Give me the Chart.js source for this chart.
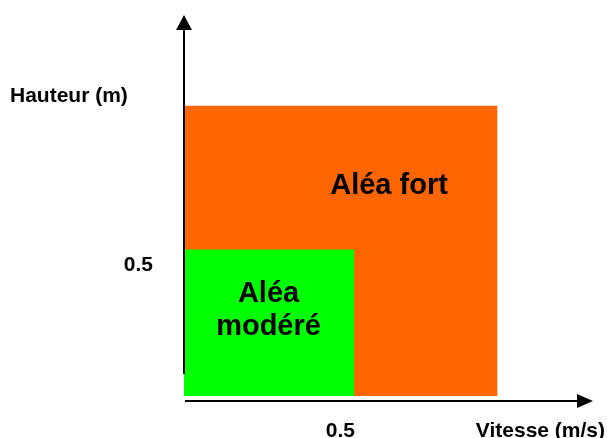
<!DOCTYPE html>
<html><head><meta charset="utf-8">
<script src="https://cdn.jsdelivr.net/npm/chart.js@4"></script>
<style>html,body{margin:0;padding:0;background:#fff;overflow:hidden}canvas{display:block}</style>
</head><body>
<canvas id="c" width="607" height="438"></canvas>
<script>
// ---- data ----
const zoneNames = ['Aléa modéré', 'Aléa fort'];
const zoneVitesseMax = [0.5, 0.92];
const zoneHauteurMax = [0.5, 0.99];
const zoneColors = ['#00FF00', '#FF6600'];
const zoneLabelLines = [['Aléa', 'modéré'], ['Aléa fort']];
const zoneLabelX = [0.248, 0.6015];
const zoneLabelY = [0.264, 0.689];
const xTicks = [0.5];
const yTicks = [0.5];
const xTickLabels = ['0.5'];
const yTickLabels = ['0.5'];
const xTitle = 'Vitesse (m/s)';
const yTitle = 'Hauteur (m)';

const FONT = '"Liberation Sans", Arial, sans-serif';

const datasets = zoneNames.map((name, i) => ({
  label: name,
  data: [{x: 0, y: zoneHauteurMax[i]}, {x: zoneVitesseMax[i], y: zoneHauteurMax[i]}],
  fill: 'origin',
  backgroundColor: zoneColors[i],
  borderColor: 'rgba(0,0,0,0)',
  borderWidth: 0,
  pointRadius: 0,
  order: i
}));

const axesPlugin = {
  id: 'axesArrows',
  afterDraw(chart) {
    const ctx = chart.ctx, a = chart.chartArea;
    const xs = chart.scales.x, ys = chart.scales.y;
    const x0 = xs.getPixelForValue(0);
    ctx.save();
    ctx.strokeStyle = '#000'; ctx.fillStyle = '#000'; ctx.lineWidth = 2;
    // y axis
    ctx.beginPath();
    ctx.moveTo(x0, a.top + 10);
    ctx.lineTo(x0, ys.getPixelForValue(0.075));
    ctx.stroke();
    ctx.beginPath();
    ctx.moveTo(x0, a.top); ctx.lineTo(x0 - 8, a.top + 15); ctx.lineTo(x0 + 8, a.top + 15); ctx.closePath(); ctx.fill();
    // x axis
    ctx.beginPath();
    ctx.moveTo(x0 + 1, a.bottom);
    ctx.lineTo(a.right - 10, a.bottom);
    ctx.stroke();
    ctx.beginPath();
    ctx.moveTo(a.right, a.bottom); ctx.lineTo(a.right - 16, a.bottom - 7); ctx.lineTo(a.right - 16, a.bottom + 7); ctx.closePath(); ctx.fill();
    // ticks labels (positioned from the scales)
    ctx.font = 'bold 21px ' + FONT;
    ctx.textBaseline = 'alphabetic';
    ctx.textAlign = 'right';
    yTicks.forEach((v, i) => ctx.fillText(yTickLabels[i], x0 - 31, ys.getPixelForValue(v) + 22));
    ctx.textAlign = 'center';
    xTicks.forEach((v, i) => ctx.fillText(xTickLabels[i], xs.getPixelForValue(v) - 14, a.bottom + 36));
    // axis titles
    ctx.textAlign = 'left';
    ctx.fillText(yTitle, 10, 102);
    ctx.textAlign = 'right';
    ctx.fillText(xTitle, 605, a.bottom + 36);
    // zone labels
    ctx.textAlign = 'center';
    ctx.font = 'bold 29px ' + FONT;
    zoneLabelLines.forEach((lines, i) => {
      const cx = xs.getPixelForValue(zoneLabelX[i]);
      const cy = ys.getPixelForValue(zoneLabelY[i]);
      const lh = 33;
      lines.forEach((t, k) => {
        ctx.fillText(t, cx, cy + (k - (lines.length - 1) / 2) * lh);
      });
    });
    ctx.restore();
  }
};

new Chart(document.getElementById('c'), {
  type: 'line',
  data: { datasets },
  options: {
    responsive: false,
    devicePixelRatio: 1,
    animation: false,
    layout: { padding: { left: 184, top: 15, right: 14, bottom: 37 } },
    plugins: { legend: { display: false }, tooltip: { enabled: false } },
    scales: {
      x: { type: 'linear', min: 0, max: 1.2, display: false },
      y: { type: 'linear', min: -0.017, max: 1.3, display: false }
    }
  },
  plugins: [axesPlugin]
});
</script>
</body></html>
